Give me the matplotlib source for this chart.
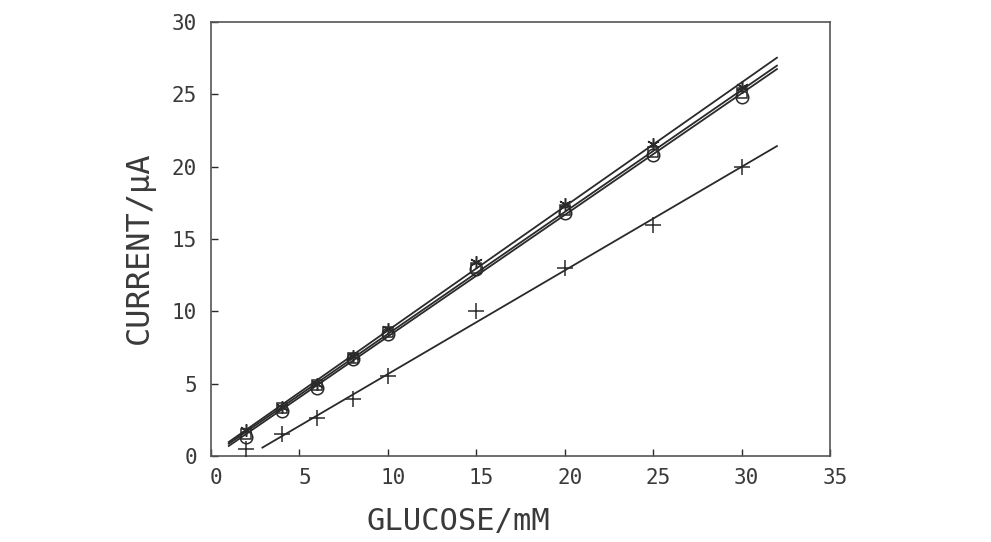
import numpy as np
import matplotlib
matplotlib.use("Agg")
import matplotlib.pyplot as plt
from matplotlib.transforms import ScaledTranslation

glucose = [2, 4, 6, 8, 10, 15, 20, 25, 30]
circle_y = [1.3, 3.1, 4.7, 6.7, 8.4, 12.9, 16.8, 20.8, 24.8]
square_y = [1.5, 3.3, 4.9, 6.8, 8.6, 13.0, 17.0, 21.0, 25.1]
star_y = [1.8, 3.4, 5.0, 6.9, 8.8, 13.4, 17.4, 21.6, 25.5]
plus_y = [0.5, 1.5, 2.6, 3.9, 5.5, 10.0, 13.0, 16.0, 20.0]

xticks = [0, 5, 10, 15, 20, 25, 30, 35]
yticks = [0, 5, 10, 15, 20, 25, 30]

ink = "#2a2a2a"
txt = "#3a3a3a"
plt.rcParams['font.family'] = ['DejaVu Sans Mono', 'DejaVu Sans']

fig = plt.figure(figsize=(9.91, 5.42), dpi=100)
ax = fig.add_axes([0.213, 0.159, 0.6245, 0.8])

def fitline(x, y, x0, x1, lw=1.3):
    k, b = np.polyfit(x, y, 1)
    xs = np.array([x0, x1])
    ax.plot(xs, k * xs + b, color=ink, lw=lw, zorder=2)

fitline(glucose, circle_y, 1.0, 32.0)
fitline(glucose, square_y, 1.0, 32.0)
fitline(glucose, star_y, 1.0, 32.0)
fitline(glucose[1:], plus_y[1:], 2.9, 32.0)

ax.plot(glucose, circle_y, 'o', ms=9, mfc='none', mec=ink, mew=1.1, zorder=3)
ax.plot(glucose, square_y, 's', ms=7, mfc='none', mec=ink, mew=1.1, zorder=3)
ax.plot(glucose, star_y, marker=(6, 2, 0), ls='none', ms=9, mec=ink, mew=1.1, zorder=3)
ax.plot(glucose, plus_y, '+', ms=12, mec=ink, mew=1.1, zorder=3)

ax.set_xlim(0, 35)
ax.set_ylim(0, 30)
ax.set_xticks(xticks)
ax.set_yticks(yticks)
ax.set_xticklabels([str(v) for v in xticks])
ax.set_yticklabels([str(v) for v in yticks])
ax.tick_params(direction='in', length=5, width=1, colors=ink, labelsize=15,
               labelcolor=txt)
ax.tick_params(axis='x', pad=9)
ax.tick_params(axis='y', pad=10)
shift = ScaledTranslation(5 / 100, 0, fig.dpi_scale_trans)
for lab in ax.get_xticklabels():
    lab.set_transform(lab.get_transform() + shift)
for s in ax.spines.values():
    s.set_color("#555555")
    s.set_linewidth(1.2)

ax.set_xlabel("GLUCOSE/mM", fontsize=22, color=txt)
ax.xaxis.set_label_coords(0.40, -0.118)
ax.set_ylabel("CURRENT/µA", fontsize=23, color=txt)
ax.yaxis.set_label_coords(-0.091, 0.48)

fig.savefig("out.png", dpi=100)
